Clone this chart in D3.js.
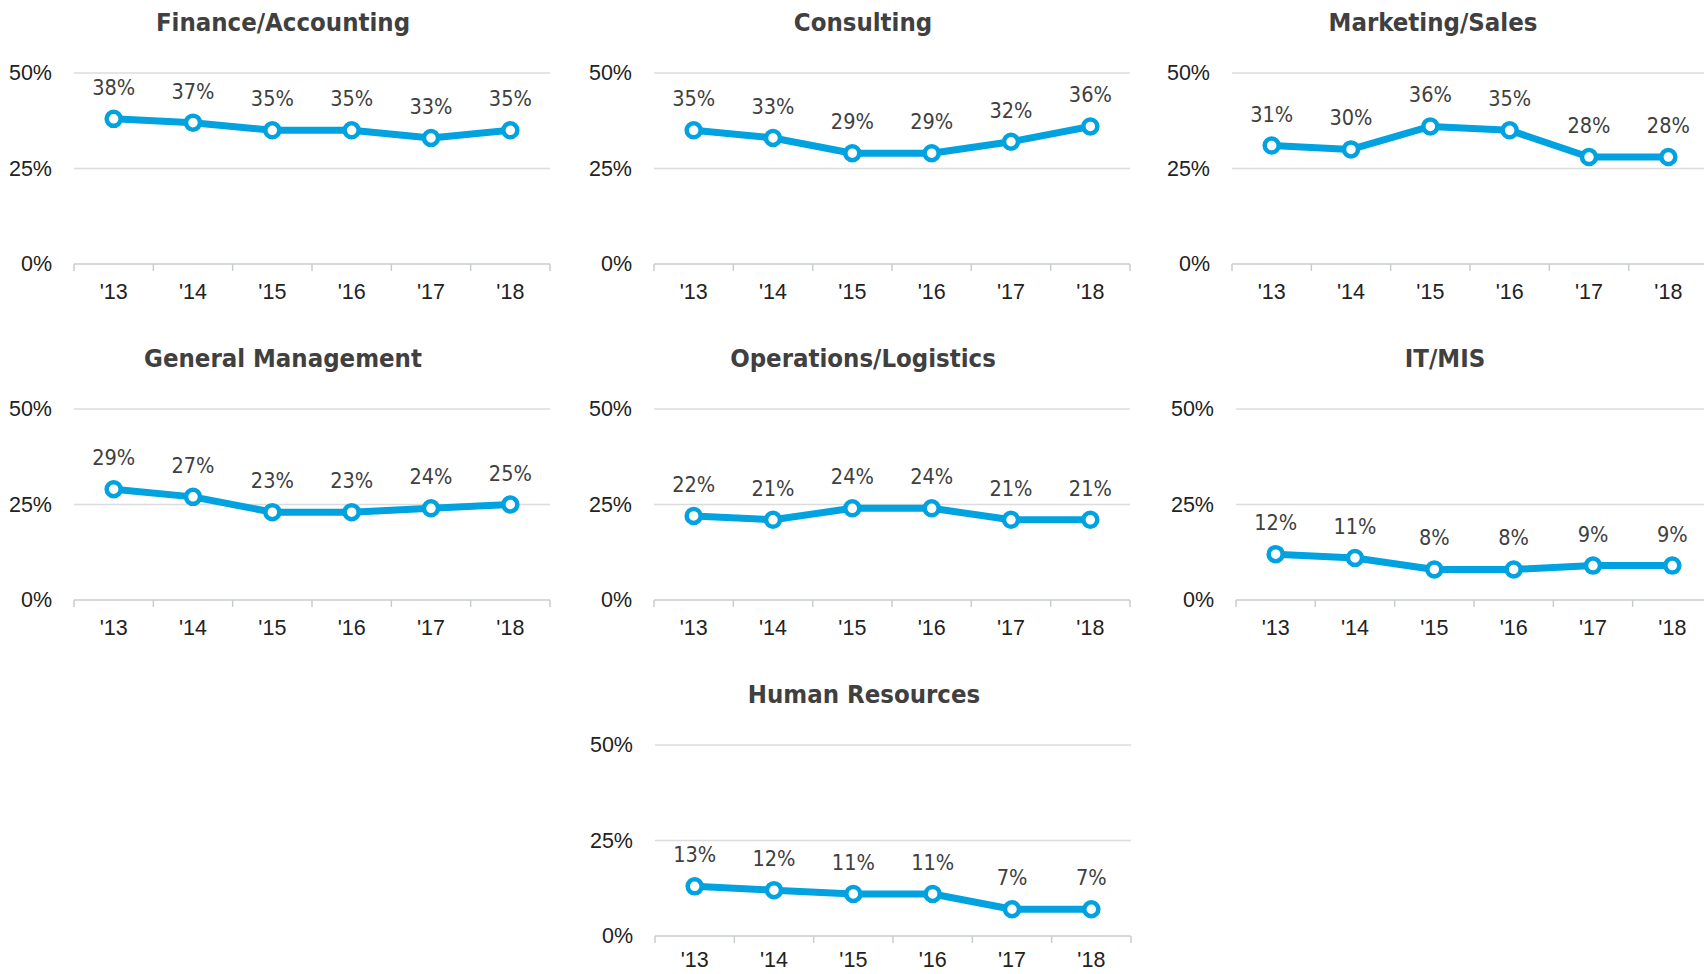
<!DOCTYPE html>
<html>
<head>
<meta charset="utf-8">
<script src="https://cdn.jsdelivr.net/npm/d3@7"></script>
<style>
  body { margin: 0; background: #fff; }
  svg { display: block; font-family: "DejaVu Sans Condensed", "DejaVu Sans", sans-serif; }
  .domain { display: none; }
</style>
</head>
<body>
<script>
//Data
const years = ["'13", "'14", "'15", "'16", "'17", "'18"];
const yTicks = [0, 25, 50];

const finance = [38, 37, 35, 35, 33, 35];
const consulting = [35, 33, 29, 29, 32, 36];
const marketing = [31, 30, 36, 35, 28, 28];
const generalMgmt = [29, 27, 23, 23, 24, 25];
const operations = [22, 21, 24, 24, 21, 21];
const itMis = [12, 11, 8, 8, 9, 9];
const humanRes = [13, 12, 11, 11, 7, 7];

//Layout
const plotW = 476;
const plotH = 191;
const rowY = [73, 409, 745];

const panels = [
  {title: "Finance/Accounting", values: finance, x0: 74, row: 0, tdx: 0},
  {title: "Consulting", values: consulting, x0: 654, row: 0, tdx: 0},
  {title: "Marketing/Sales", values: marketing, x0: 1232, row: 0, tdx: -8},
  {title: "General Management", values: generalMgmt, x0: 74, row: 1, tdx: 0},
  {title: "Operations/Logistics", values: operations, x0: 654, row: 1, tdx: 0},
  {title: "IT/MIS", values: itMis, x0: 1236, row: 1, tdx: 0},
  {title: "Human Resources", values: humanRes, x0: 655, row: 2, tdx: 0}
];

const lineColor = "#00a2df";

//Create svg
const svg = d3.select("body")
  .append("svg")
  .attr("width", 1704)
  .attr("height", 974);

panels.forEach(function(p) {
  const g = svg.append("g")
    .attr("transform", "translate(" + p.x0 + "," + rowY[p.row] + ")");

  const xScale = d3.scaleBand().domain(years).range([0, plotW]).padding(0);
  const yScale = d3.scaleLinear().domain([0, 50]).range([plotH, 0]);

  //Title
  g.append("text")
    .attr("x", plotW / 2 - 29 + p.tdx)
    .attr("y", -51)
    .attr("dy", "0.35em")
    .attr("text-anchor", "middle")
    .attr("font-size", 25.5)
    .attr("font-weight", "bold")
    .attr("fill", "#404040")
    .text(p.title);

  //Gridlines
  g.selectAll(".grid")
    .data(yTicks.filter(d => d > 0))
    .enter()
    .append("line")
    .attr("x1", 0)
    .attr("x2", plotW)
    .attr("y1", d => yScale(d))
    .attr("y2", d => yScale(d))
    .attr("stroke", "#dcdcdc")
    .attr("stroke-width", 1.5);

  //Y axis
  const yAxis = d3.axisLeft(yScale)
    .tickValues(yTicks)
    .tickFormat(d => d + "%")
    .tickSize(0)
    .tickPadding(22);
  const yG = g.append("g").call(yAxis);
  yG.selectAll("text").attr("font-size", 21.5).attr("fill", "#222").style("font-family", "inherit");

  //X axis baseline + boundary ticks
  g.append("line")
    .attr("x1", 0).attr("x2", plotW)
    .attr("y1", plotH).attr("y2", plotH)
    .attr("stroke", "#c8cdd0")
    .attr("stroke-width", 1.5);
  const bounds = years.map(d => xScale(d)).concat([xScale.range()[1]]);
  g.selectAll(".btick")
    .data(bounds)
    .enter()
    .append("line")
    .attr("x1", d => d).attr("x2", d => d)
    .attr("y1", plotH).attr("y2", plotH + 7)
    .attr("stroke", "#c8cdd0")
    .attr("stroke-width", 1.5);

  // bottom row sits on the page edge, nudge its labels up a little
  const xAxis = d3.axisBottom(xScale).tickSize(0).tickPadding(p.row == 2 ? 16 : 20);
  const xG = g.append("g")
    .attr("transform", "translate(0," + plotH + ")")
    .call(xAxis);
  xG.selectAll("text").attr("font-size", 21.5).attr("fill", "#222").style("font-family", "inherit");

  //Line
  const pts = p.values.map((v, i) => ({year: years[i], v: v}));
  const line = d3.line()
    .x(d => xScale(d.year) + xScale.bandwidth() / 2)
    .y(d => yScale(d.v));
  g.append("path")
    .datum(pts)
    .attr("d", line)
    .attr("fill", "none")
    .attr("stroke", lineColor)
    .attr("stroke-width", 7)
    .attr("stroke-linejoin", "round");

  //Markers
  g.selectAll(".dot")
    .data(pts)
    .enter()
    .append("circle")
    .attr("cx", d => xScale(d.year) + xScale.bandwidth() / 2)
    .attr("cy", d => yScale(d.v))
    .attr("r", 7)
    .attr("fill", "#fff")
    .attr("stroke", lineColor)
    .attr("stroke-width", 4.5);

  //Value labels
  g.selectAll(".lbl")
    .data(pts)
    .enter()
    .append("text")
    .attr("x", d => xScale(d.year) + xScale.bandwidth() / 2)
    .attr("y", d => yScale(d.v) - 24)
    .attr("text-anchor", "middle")
    .attr("font-size", 21.5)
    .attr("fill", "#404040")
    .text(d => d.v + "%");
});
</script>
</body>
</html>
